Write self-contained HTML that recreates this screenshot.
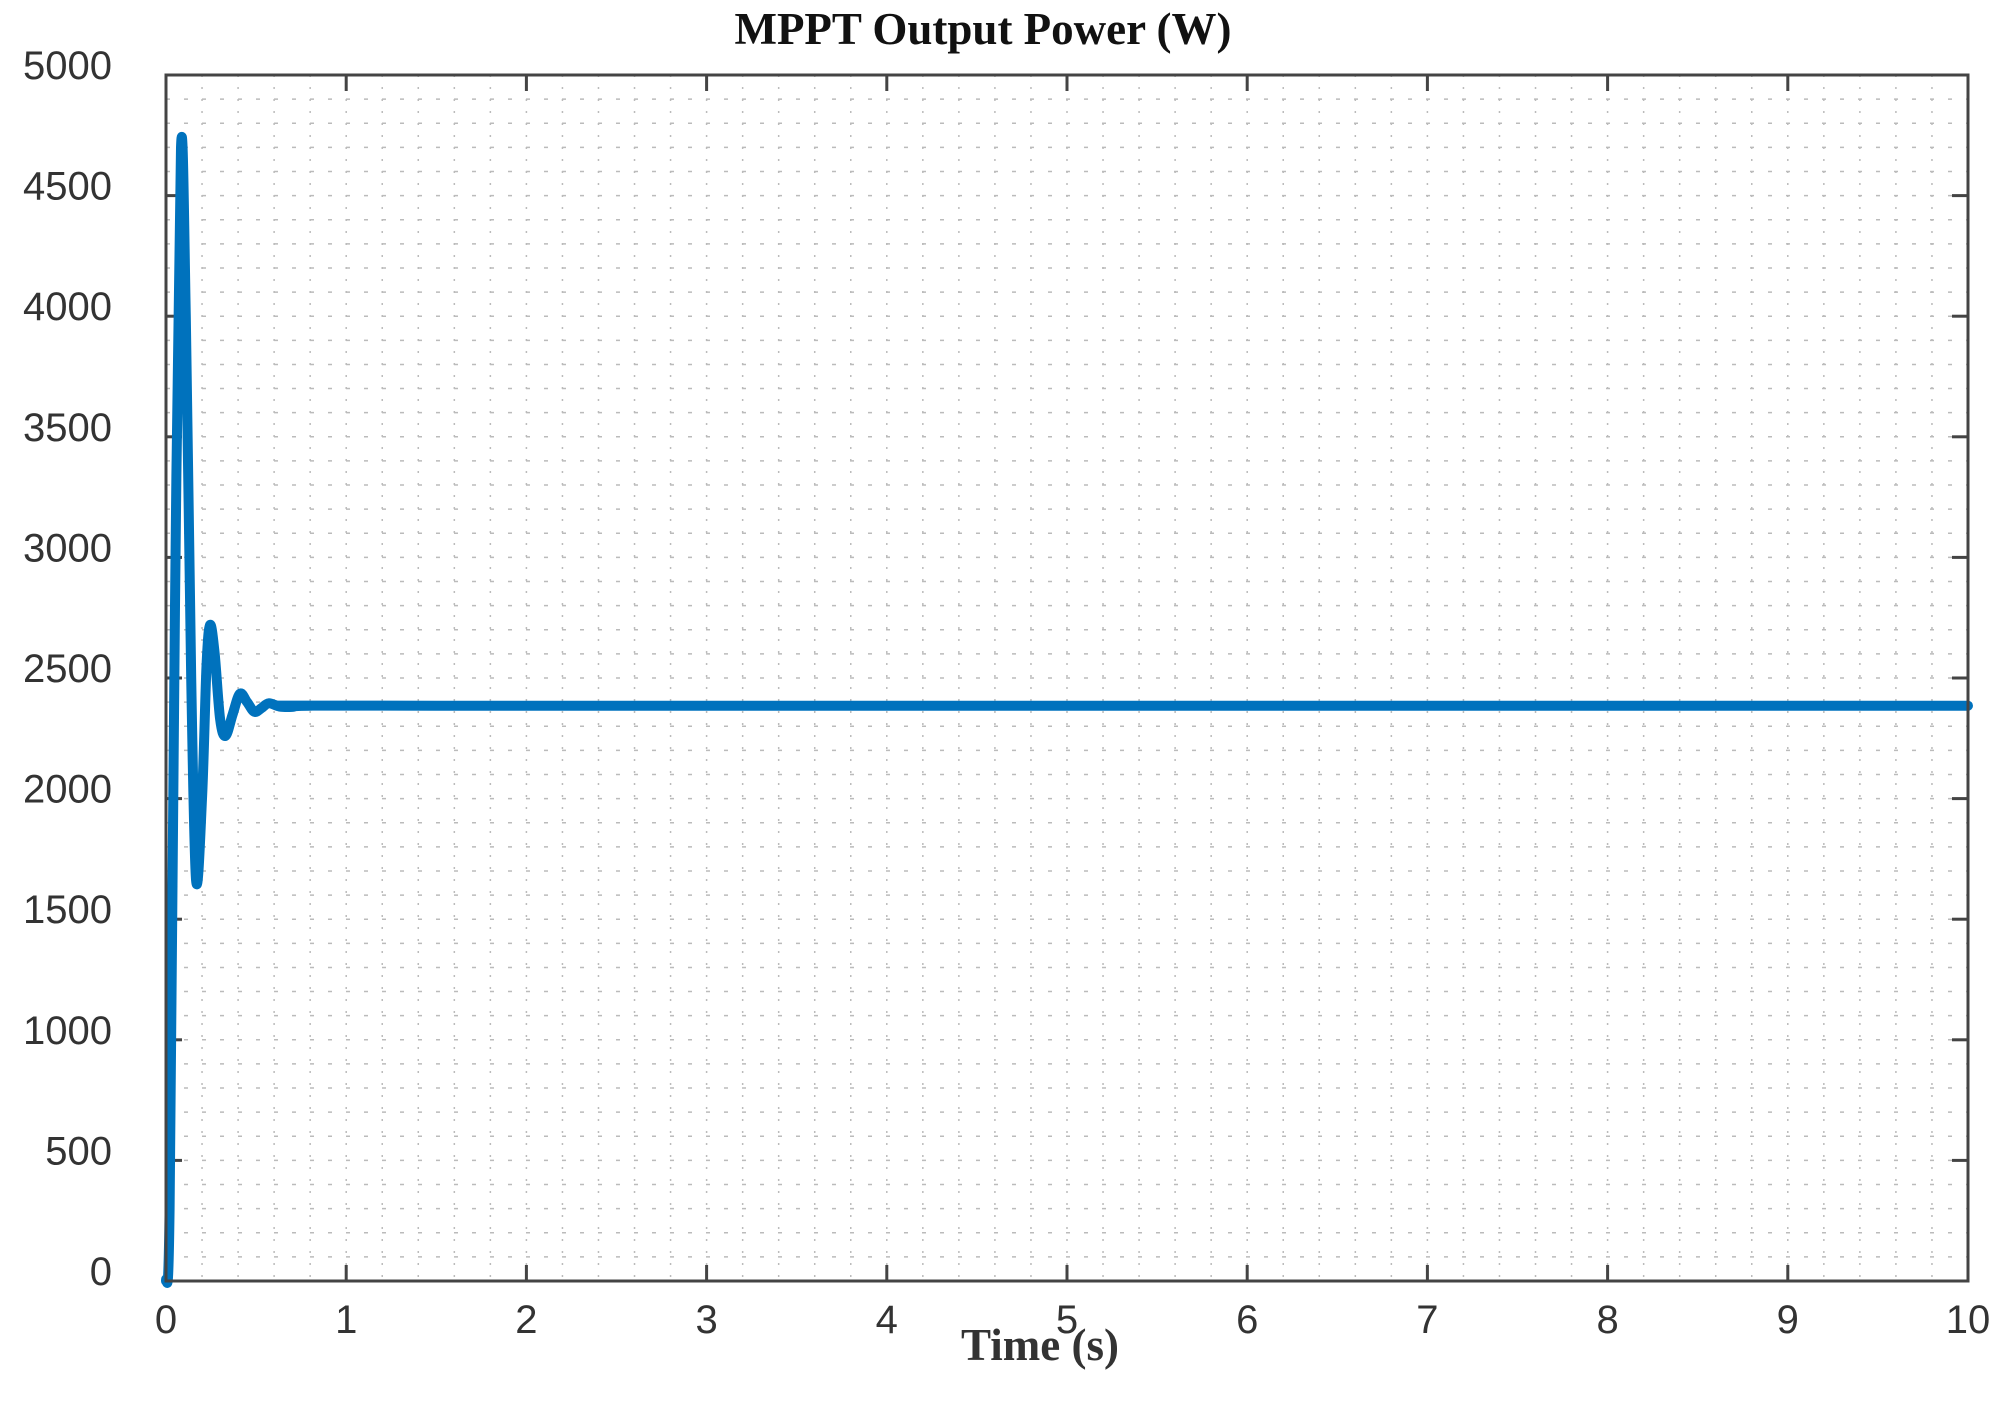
<!DOCTYPE html>
<html><head><meta charset="utf-8"><style>
html,body{margin:0;padding:0;background:#fff}
svg{display:block}
.t{font-family:"Liberation Sans",sans-serif;font-size:40px;fill:#333}
</style></head><body>
<svg id="s" width="2000" height="1420" xmlns="http://www.w3.org/2000/svg">
<rect width="2000" height="1420" fill="#fff"/>
<g id="grid"></g>
<text x="983" y="44" text-anchor="middle" font-family="Liberation Serif,serif" font-weight="bold" font-size="45" fill="#111">MPPT Output Power (W)</text>
<text x="1040" y="1360" text-anchor="middle" font-family="Liberation Serif,serif" font-weight="bold" font-size="45" fill="#333">Time (s)</text>
<g id="lab"></g>
<path id="curve" fill="none" stroke="#0072BD" stroke-width="10" stroke-linejoin="round" stroke-linecap="round"/>
<rect x="166" y="75" width="1802" height="1206" fill="none" stroke="#444" stroke-width="3"/>
</svg>
<script>
var L=166,R=1968,T=75,B=1281,W=R-L,H=B-T;
function X(t){return L+t/10*W}function Y(v){return B-v/5000*H}
var g='';
for(var i=1;i<50;i++){var x=X(i/5);g+='<line x1="'+x+'" y1="'+T+'" x2="'+x+'" y2="'+B+'" stroke="#bbb" stroke-width="1.5" stroke-dasharray="2,10"/>';}
for(var j=1;j<50;j++){var y=Y(j*100);g+='<line x1="'+L+'" y1="'+y+'" x2="'+R+'" y2="'+y+'" stroke="#bbb" stroke-width="1.5" stroke-dasharray="4,14"/>';}
for(var i=1;i<10;i++){var x=X(i);g+='<line x1="'+x+'" y1="'+B+'" x2="'+x+'" y2="'+(B-16)+'" stroke="#444" stroke-width="3"/><line x1="'+x+'" y1="'+T+'" x2="'+x+'" y2="'+(T+16)+'" stroke="#444" stroke-width="3"/>';}
for(var j=1;j<10;j++){var y=Y(j*500);g+='<line x1="'+L+'" y1="'+y+'" x2="'+(L+16)+'" y2="'+y+'" stroke="#444" stroke-width="3"/><line x1="'+R+'" y1="'+y+'" x2="'+(R-16)+'" y2="'+y+'" stroke="#444" stroke-width="3"/>';}
document.getElementById('grid').innerHTML=g;
var l='';
for(var i=0;i<=10;i++)l+='<text class="t" x="'+X(i)+'" y="1333" text-anchor="middle">'+i+'</text>';
for(var j=0;j<=10;j++)l+='<text class="t" x="112" y="'+(Y(j*500)+4)+'" text-anchor="end">'+(j*500)+'</text>';
document.getElementById('lab').innerHTML=l;
var p=[[0,0],[0.02,300],[0.05,2800],[0.083,4700],[0.11,4000],[0.14,2500],[0.167,1660],[0.2,2000],[0.225,2550],[0.245,2720],[0.27,2600],[0.3,2330],[0.33,2260],[0.37,2350],[0.41,2435],[0.45,2400],[0.49,2360],[0.53,2375],[0.57,2395],[0.63,2382],[0.7,2380],[0.8,2385],[1.5,2385],[10,2385]];
var q=p.map(function(a){return [X(a[0]),Y(a[1])]});
var d='M'+q[0][0]+','+q[0][1];
for(var i=0;i<q.length-1;i++){var p0=q[Math.max(0,i-1)],p1=q[i],p2=q[i+1],p3=q[Math.min(q.length-1,i+2)];
d+=' C'+(p1[0]+(p2[0]-p0[0])/6).toFixed(1)+','+(p1[1]+(p2[1]-p0[1])/6).toFixed(1)+' '+(p2[0]-(p3[0]-p1[0])/6).toFixed(1)+','+(p2[1]-(p3[1]-p1[1])/6).toFixed(1)+' '+p2[0].toFixed(1)+','+p2[1].toFixed(1);}
document.getElementById('curve').setAttribute('d',d);
</script>
</body></html>
